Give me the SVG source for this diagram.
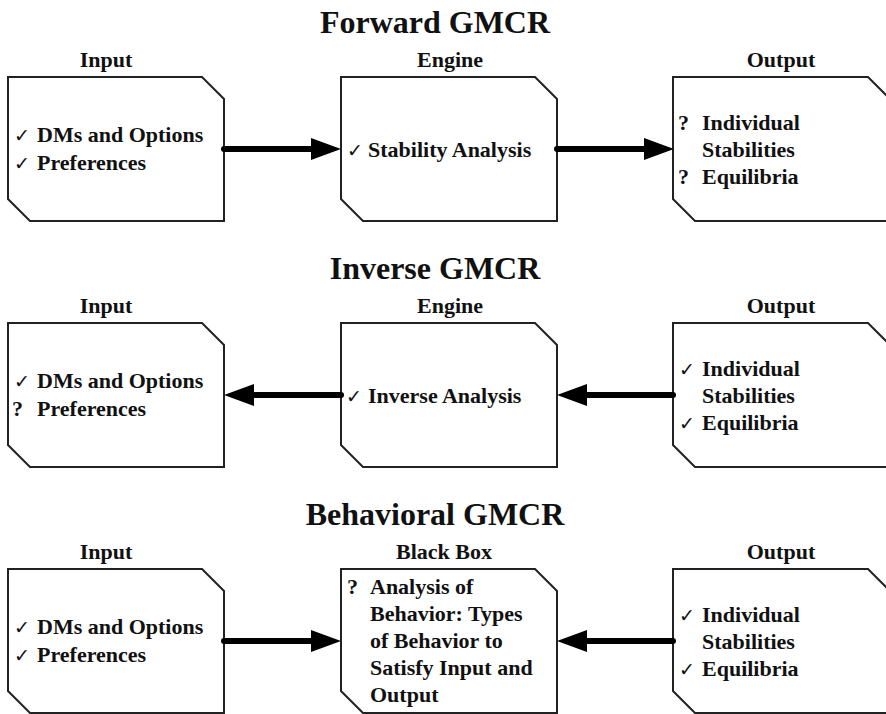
<svg xmlns="http://www.w3.org/2000/svg" width="886" height="714" viewBox="0 0 886 714">
  <style>
    .title { font-family: "Liberation Serif", "Times New Roman", serif; font-weight: bold; font-size: 32px; fill: #111; text-anchor: middle; }
    .label { font-family: "Liberation Serif", "Times New Roman", serif; font-weight: bold; font-size: 22px; fill: #111; text-anchor: middle; }
    .txt { font-family: "Liberation Serif", "Times New Roman", serif; font-weight: bold; font-size: 22px; fill: #111; }
    .chk { font-family: "DejaVu Sans", sans-serif; font-weight: normal; font-size: 19px; fill: #111; }
    .box { fill: #fff; stroke: #222; stroke-width: 2; stroke-linejoin: miter; }
    .conn { fill: none; stroke: #000; stroke-width: 6; stroke-linecap: round; }
  </style>
  <defs>
    <marker id="arrow" viewBox="0 0 30 22" refX="0" refY="11" markerWidth="30" markerHeight="22" markerUnits="userSpaceOnUse" orient="auto">
      <path d="M0,0 L30,11 L0,22 Z" fill="#000"/>
    </marker>
    <!-- clipped-corner box, 216 x 144 -->
    <path id="boxShape" d="M0,0 H194 L216,22 V144 H22 L0,122 Z"/>
  </defs>

  <rect width="886" height="714" fill="#fff"/>

  <!-- section headings -->
  <text class="title" x="435" y="33">Forward GMCR</text>
  <text class="title" x="435" y="279">Inverse GMCR</text>
  <text class="title" x="435" y="525">Behavioral GMCR</text>

  <!-- Forward GMCR -->
  <g id="fwd-input">
    <text class="label" x="106" y="67">Input</text>
    <use href="#boxShape" class="box" x="8" y="77"/>
    <text class="chk" x="14" y="142">✓</text><text class="txt" x="37" y="142">DMs and Options</text>
    <text class="chk" x="14" y="170">✓</text><text class="txt" x="37" y="170">Preferences</text>
  </g>
  <g id="fwd-engine">
    <text class="label" x="450" y="67">Engine</text>
    <use href="#boxShape" class="box" x="341" y="77"/>
    <text class="chk" x="347" y="157">✓</text><text class="txt" x="368" y="157">Stability Analysis</text>
  </g>
  <g id="fwd-output">
    <text class="label" x="781" y="67">Output</text>
    <path class="box" d="M673,77 H868 L889,98 V221 H695 L673,199 Z"/>
    <text class="txt" x="678" y="130">?</text><text class="txt" x="702" y="130">Individual</text>
    <text class="txt" x="702" y="157">Stabilities</text>
    <text class="txt" x="678" y="184">?</text><text class="txt" x="702" y="184">Equilibria</text>
  </g>

  <!-- Inverse GMCR -->
  <g id="inv-input">
    <text class="label" x="106" y="313">Input</text>
    <use href="#boxShape" class="box" x="8" y="323"/>
    <text class="chk" x="14" y="388">✓</text><text class="txt" x="37" y="388">DMs and Options</text>
    <text class="txt" x="12" y="416">?</text><text class="txt" x="37" y="416">Preferences</text>
  </g>
  <g id="inv-engine">
    <text class="label" x="450" y="313">Engine</text>
    <use href="#boxShape" class="box" x="341" y="323"/>
    <text class="chk" x="346" y="403">✓</text><text class="txt" x="368" y="403">Inverse Analysis</text>
  </g>
  <g id="inv-output">
    <text class="label" x="781" y="313">Output</text>
    <path class="box" d="M673,323 H868 L889,344 V467 H695 L673,445 Z"/>
    <text class="chk" x="679" y="376">✓</text><text class="txt" x="702" y="376">Individual</text>
    <text class="txt" x="702" y="403">Stabilities</text>
    <text class="chk" x="679" y="430">✓</text><text class="txt" x="702" y="430">Equilibria</text>
  </g>

  <!-- Behavioral GMCR -->
  <g id="beh-input">
    <text class="label" x="106" y="559">Input</text>
    <use href="#boxShape" class="box" x="8" y="569"/>
    <text class="chk" x="14" y="634">✓</text><text class="txt" x="37" y="634">DMs and Options</text>
    <text class="chk" x="14" y="662">✓</text><text class="txt" x="37" y="662">Preferences</text>
  </g>
  <g id="beh-blackbox">
    <text class="label" x="444" y="559">Black Box</text>
    <use href="#boxShape" class="box" x="341" y="569"/>
    <text class="txt" x="347" y="594">?</text><text class="txt" x="370" y="594">Analysis of</text>
    <text class="txt" x="370" y="621">Behavior: Types</text>
    <text class="txt" x="370" y="648">of Behavior to</text>
    <text class="txt" x="370" y="675">Satisfy Input and</text>
    <text class="txt" x="370" y="702">Output</text>
  </g>
  <g id="beh-output">
    <text class="label" x="781" y="559">Output</text>
    <path class="box" d="M673,569 H868 L889,590 V713 H695 L673,691 Z"/>
    <text class="chk" x="679" y="622">✓</text><text class="txt" x="702" y="622">Individual</text>
    <text class="txt" x="702" y="649">Stabilities</text>
    <text class="chk" x="679" y="676">✓</text><text class="txt" x="702" y="676">Equilibria</text>
  </g>

  <!-- connectors -->
  <g id="connectors">
    <line class="conn" x1="224" y1="149" x2="311" y2="149" marker-end="url(#arrow)"/>
    <line class="conn" x1="557" y1="149" x2="644" y2="149" marker-end="url(#arrow)"/>
    <line class="conn" x1="341" y1="395" x2="254" y2="395" marker-end="url(#arrow)"/>
    <line class="conn" x1="673" y1="395" x2="587" y2="395" marker-end="url(#arrow)"/>
    <line class="conn" x1="224" y1="641" x2="311" y2="641" marker-end="url(#arrow)"/>
    <line class="conn" x1="673" y1="641" x2="587" y2="641" marker-end="url(#arrow)"/>
  </g>
</svg>
